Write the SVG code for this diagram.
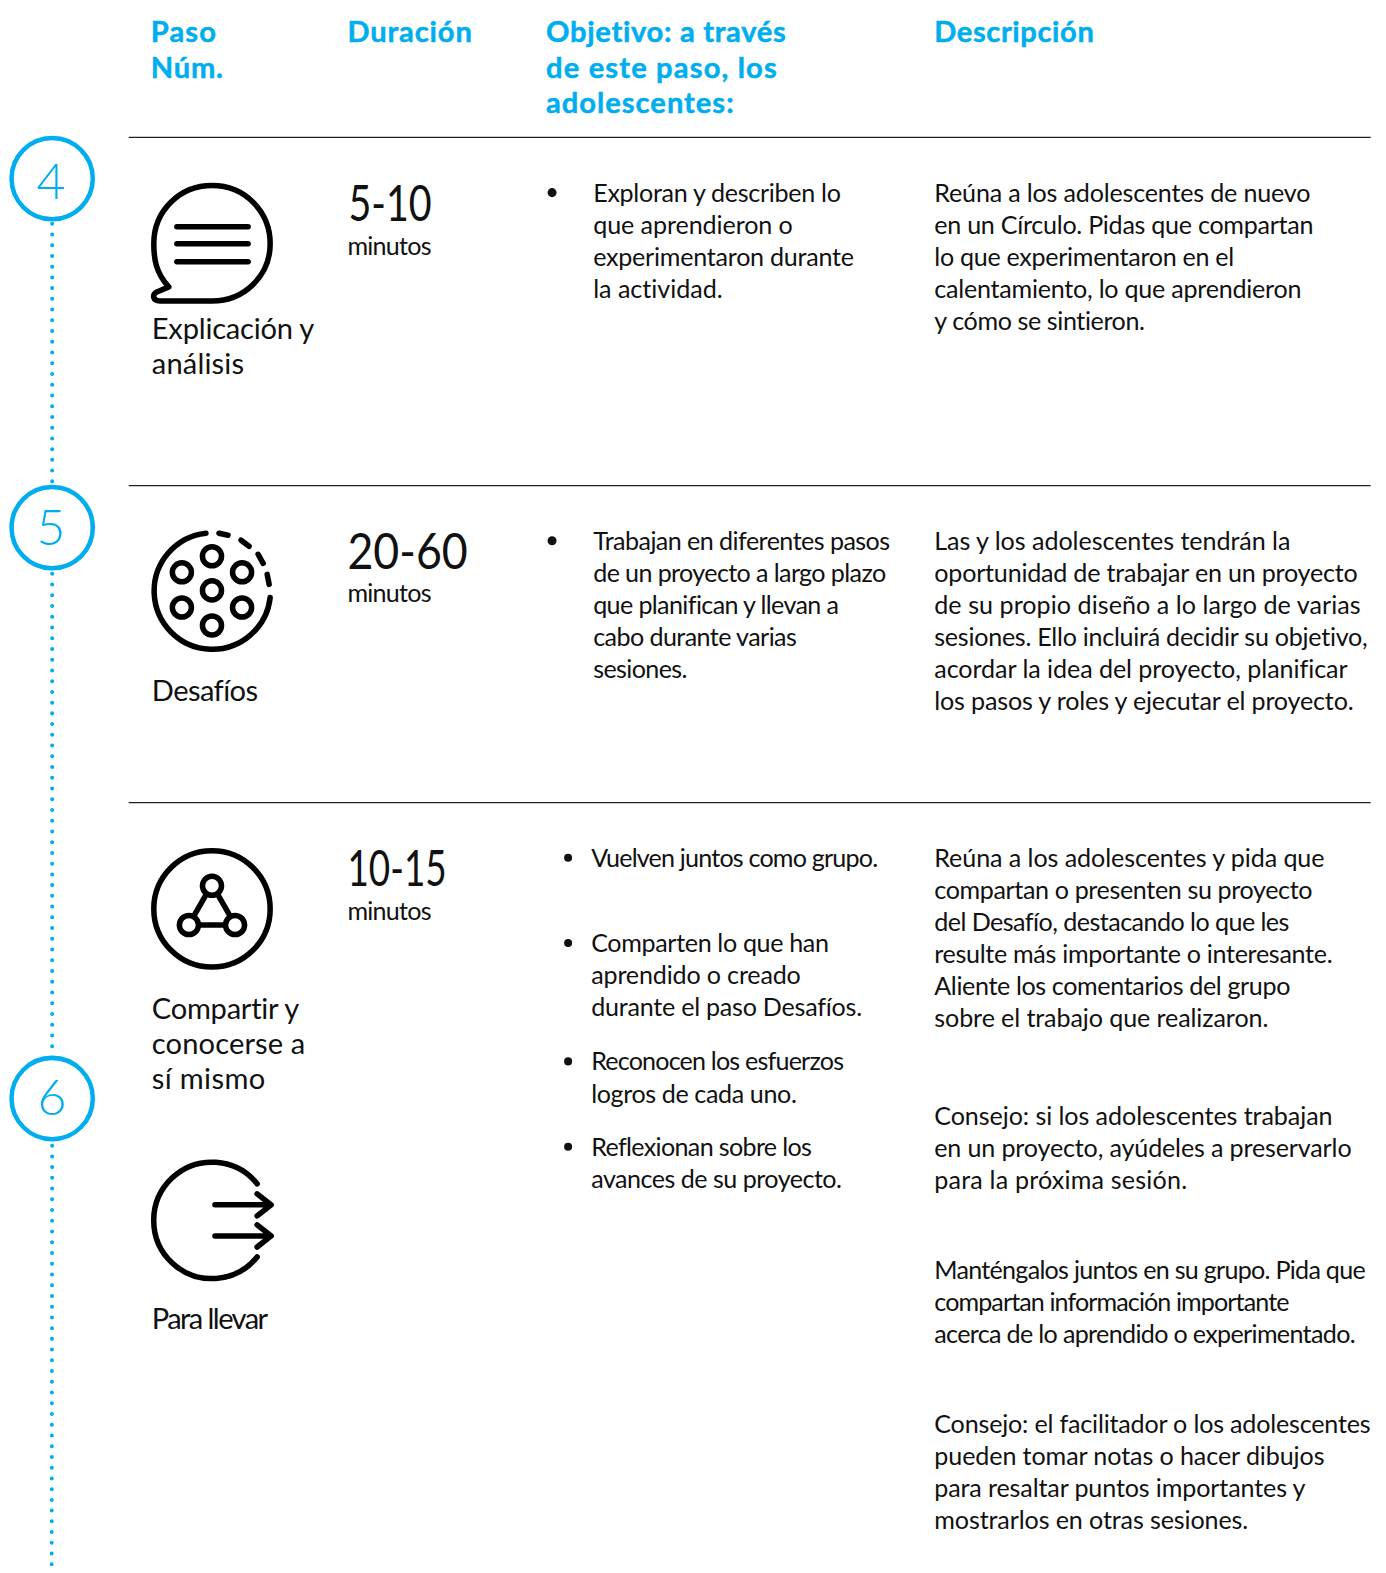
<svg xmlns="http://www.w3.org/2000/svg" width="1386" height="1573" viewBox="0 0 1386 1573">
<style>
text{font-family:"Lato","Noto Sans",sans-serif;fill:#111;font-variant-ligatures:none}
.h{font-size:29px;font-weight:700;fill:#00aeef;stroke:#00aeef;stroke-width:.5}
.l{font-size:29px}
.b{font-size:25px}
.n{font-size:50px}
.m{font-size:25px}
.c{font-size:50px;fill:#00aeef;text-anchor:middle;font-weight:300}
.ring{fill:#fff;stroke:#00aeef;stroke-width:4.5}
.dots{stroke:#00aeef;stroke-width:4;stroke-linecap:round;stroke-dasharray:0 10.7;fill:none}
.rule{stroke:#222;stroke-width:1.2}
.i{fill:none;stroke:#000;stroke-width:5.5;stroke-linecap:round;stroke-linejoin:round}
</style>
<g transform="translate(-0.7 0) scale(1.0032)">
<g id="connectors">
<line class="dots" x1="52.7" y1="223" x2="52.7" y2="482"/>
<line class="dots" x1="52.7" y1="572" x2="52.7" y2="1050"/>
<line class="dots" x1="52.7" y1="1142" x2="52.2" y2="1570"/>
<line class="rule" x1="129" y1="137" x2="1367" y2="137"/>
<line class="rule" x1="129" y1="484" x2="1367" y2="484"/>
<line class="rule" x1="129" y1="800" x2="1367" y2="800"/>
</g>
<g id="header">
<text class="h" x="151" y="42" textLength="65">Paso</text>
<text class="h" x="151" y="78" textLength="72">Núm.</text>
<text class="h" x="347" y="42" textLength="124">Duración</text>
<text class="h" x="545" y="42" textLength="239">Objetivo: a través</text>
<text class="h" x="545" y="78" textLength="230">de este paso, los</text>
<text class="h" x="545" y="113" textLength="187">adolescentes:</text>
<text class="h" x="932" y="42" textLength="159">Descripción</text>
</g>
<g id="step-4">
<circle class="ring" cx="52.7" cy="178" r="40.5"/>
<text class="c" x="51.7" y="198">4</text>
<path class="i" d="M169 286C156 272 154 258 154 243C154 210 180 185 212 185C245 185 270 211 270 243C270 275 244 300 212 300L160 300C153 300 152 294 157 291Z"/>
<path class="i" d="M177 226H248M177 243H248M177 261H248"/>
<text class="l" x="152" y="338" textLength="162">Explicación y</text>
<text class="l" x="152" y="373" textLength="92">análisis</text>
<text class="n" x="348" y="220" textLength="83" lengthAdjust="spacingAndGlyphs">5-10</text>
<text class="m" x="347" y="254" textLength="84">minutos</text>
<circle cx="551" cy="192" r="4.5" fill="#111"/>
<text class="b" x="592" y="201" textLength="247">Exploran y describen lo</text>
<text class="b" x="592" y="233" textLength="199">que aprendieron o</text>
<text class="b" x="592" y="265" textLength="260">experimentaron durante</text>
<text class="b" x="592" y="297" textLength="129">la actividad.</text>
<text class="b" x="932" y="201" textLength="375">Reúna a los adolescentes de nuevo</text>
<text class="b" x="932" y="233" textLength="378">en un Círculo. Pidas que compartan</text>
<text class="b" x="932" y="265" textLength="299">lo que experimentaron en el</text>
<text class="b" x="932" y="297" textLength="366">calentamiento, lo que aprendieron</text>
<text class="b" x="932" y="329" textLength="210">y cómo se sintieron.</text>
</g>
<g id="step-5">
<circle class="ring" cx="52.7" cy="526" r="40.5"/>
<text class="c" x="51.7" y="543">5</text>
<g transform="translate(0 -1.5)">
<path class="i" d="M206 533A58 58 0 1 0 270 597"/>
<path class="i" d="M219 533L228 535M241 540L249 546M258 554L263 563M267 574L269 584"/>
<circle class="i" cx="212" cy="556" r="9.5"/>
<circle class="i" cx="182" cy="572" r="9.5"/>
<circle class="i" cx="242" cy="572" r="9.5"/>
<circle class="i" cx="212" cy="590" r="9.5"/>
<circle class="i" cx="182" cy="607" r="9.5"/>
<circle class="i" cx="242" cy="607" r="9.5"/>
<circle class="i" cx="212" cy="625" r="9.5"/>
</g>
<text class="l" x="152" y="699" textLength="106">Desafíos</text>
<text class="n" x="347" y="567" textLength="120" lengthAdjust="spacingAndGlyphs">20-60</text>
<text class="m" x="347" y="600" textLength="84">minutos</text>
<circle cx="551" cy="539" r="4.5" fill="#111"/>
<text class="b" x="592" y="548" textLength="296">Trabajan en diferentes pasos</text>
<text class="b" x="592" y="580" textLength="292">de un proyecto a largo plazo</text>
<text class="b" x="592" y="612" textLength="245">que planifican y llevan a</text>
<text class="b" x="592" y="644" textLength="203">cabo durante varias</text>
<text class="b" x="592" y="676" textLength="94">sesiones.</text>
<text class="b" x="932" y="548" textLength="355">Las y los adolescentes tendrán la</text>
<text class="b" x="932" y="580" textLength="422">oportunidad de trabajar en un proyecto</text>
<text class="b" x="932" y="612" textLength="425">de su propio diseño a lo largo de varias</text>
<text class="b" x="932" y="644" textLength="432">sesiones. Ello incluirá decidir su objetivo,</text>
<text class="b" x="932" y="676" textLength="412">acordar la idea del proyecto, planificar</text>
<text class="b" x="932" y="708" textLength="418">los pasos y roles y ejecutar el proyecto.</text>
</g>
<g id="step-6">
<circle class="ring" cx="52.7" cy="1095" r="40.5"/>
<text class="c" x="52.7" y="1111">6</text>
<circle class="i" cx="212" cy="906" r="58"/>
<circle class="i" cx="212" cy="883" r="9.5"/>
<circle class="i" cx="189" cy="922" r="9.5"/>
<circle class="i" cx="235" cy="922" r="9.5"/>
<path class="i" d="M206 892L194 913M218 892L230 913M199 922H225"/>
<text class="l" x="152" y="1016" textLength="147">Compartir y</text>
<text class="l" x="152" y="1051" textLength="153">conocerse a</text>
<text class="l" x="152" y="1086" textLength="113">sí mismo</text>
<text class="n" x="347" y="883" textLength="99" lengthAdjust="spacingAndGlyphs">10-15</text>
<text class="m" x="347" y="917" textLength="84">minutos</text>
<circle cx="567" cy="855" r="4" fill="#111"/>
<text class="b" x="590" y="864" textLength="286">Vuelven juntos como grupo.</text>
<circle cx="567" cy="940" r="4" fill="#111"/>
<text class="b" x="590" y="949" textLength="237">Comparten lo que han</text>
<text class="b" x="590" y="981" textLength="209">aprendido o creado</text>
<text class="b" x="590" y="1013" textLength="270">durante el paso Desafíos.</text>
<circle cx="567" cy="1058" r="4" fill="#111"/>
<text class="b" x="590" y="1067" textLength="252">Reconocen los esfuerzos</text>
<text class="b" x="590" y="1099" textLength="205">logros de cada uno.</text>
<circle cx="567" cy="1143" r="4" fill="#111"/>
<text class="b" x="590" y="1152" textLength="220">Reflexionan sobre los</text>
<text class="b" x="590" y="1184" textLength="250">avances de su proyecto.</text>
<text class="b" x="932" y="864" textLength="389">Reúna a los adolescentes y pida que</text>
<text class="b" x="932" y="896" textLength="377">compartan o presenten su proyecto</text>
<text class="b" x="932" y="928" textLength="354">del Desafío, destacando lo que les</text>
<text class="b" x="932" y="960" textLength="397">resulte más importante o interesante.</text>
<text class="b" x="932" y="992" textLength="355">Aliente los comentarios del grupo</text>
<text class="b" x="932" y="1024" textLength="333">sobre el trabajo que realizaron.</text>
<text class="b" x="932" y="1121" textLength="397">Consejo: si los adolescentes trabajan</text>
<text class="b" x="932" y="1153" textLength="416">en un proyecto, ayúdeles a preservarlo</text>
<text class="b" x="932" y="1185" textLength="252">para la próxima sesión.</text>
<text class="b" x="932" y="1275" textLength="430">Manténgalos juntos en su grupo. Pida que</text>
<text class="b" x="932" y="1307" textLength="354">compartan información importante</text>
<text class="b" x="932" y="1339" textLength="420">acerca de lo aprendido o experimentado.</text>
<text class="b" x="932" y="1428" textLength="435">Consejo: el facilitador o los adolescentes</text>
<text class="b" x="932" y="1460" textLength="389">pueden tomar notas o hacer dibujos</text>
<text class="b" x="932" y="1492" textLength="370">para resaltar puntos importantes y</text>
<text class="b" x="932" y="1524" textLength="313">mostrarlos en otras sesiones.</text>
</g>
<g id="para-llevar">
<g transform="translate(0 -3)">
<path class="i" d="M257 1183A58 58 0 1 0 257 1256"/>
<path class="i" d="M215 1204H270M257 1193L271 1204L257 1215M215 1235H270M257 1224L271 1235L257 1246"/>
</g>
<text class="l" x="152" y="1325" textLength="116">Para llevar</text>
</g>
</g>
</svg>
